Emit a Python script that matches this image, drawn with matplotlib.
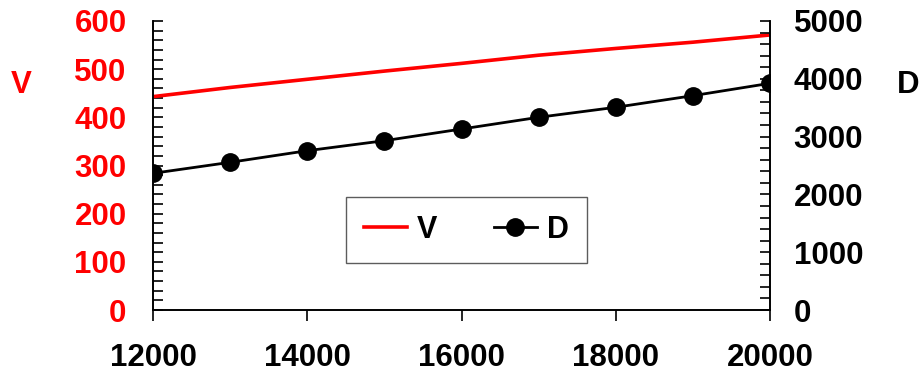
import matplotlib
matplotlib.use("Agg")
import matplotlib.pyplot as plt
from matplotlib.ticker import MultipleLocator

plt.rcParams['font.family'] = ['Liberation Sans', 'DejaVu Sans']
plt.rcParams['font.weight'] = 'bold'

x = [12000, 13000, 14000, 15000, 16000, 17000, 18000, 19000, 20000]
V = [443, 462, 479, 496, 512, 529, 543, 556, 571]
D = [2365, 2555, 2756, 2929, 3131, 3334, 3507, 3708, 3922]
xticks = [12000, 14000, 16000, 18000, 20000]

fig = plt.figure(figsize=(9.2, 3.72), dpi=100)
ax = fig.add_axes([153/920, 62/372, 617/920, 289/372])
ax2 = ax.twinx()

lv, = ax.plot(x, V, color='#FF0000', lw=2.6, label='V')
ld, = ax2.plot(x, D, color='black', lw=2.0, marker='o', ms=12.5, label='D')

ax.set_xlim(12000, 20000)
ax.set_ylim(0, 600)
ax2.set_ylim(0, 5000)
ax.set_xticks(xticks)
ax.set_yticks(range(0, 601, 100))
ax.yaxis.set_minor_locator(MultipleLocator(20))
ax2.set_yticks(range(0, 5001, 1000))
ax2.yaxis.set_minor_locator(MultipleLocator(200))

for a in (ax, ax2):
    a.spines['top'].set_visible(False)
    for s in a.spines.values():
        s.set_linewidth(1.2)

fs = 22.5
ax.tick_params(axis='y', which='both', direction='in', length=7, width=1.2,
               labelsize=fs, labelcolor='#FF0000', pad=19)
ax.tick_params(axis='x', which='both', direction='out', length=8, width=1.2,
               labelsize=fs, pad=16)
ax2.tick_params(axis='y', which='both', direction='in', length=7, width=1.2,
                labelsize=fs, labelcolor='black', pad=17)
for lab in ax.get_yticklabels() + ax.get_xticklabels() + ax2.get_yticklabels():
    lab.set_fontweight('bold')

fig.text(21/920, 1 - 85/372, 'V', color='#FF0000', fontsize=fs, fontweight='bold',
         ha='center', va='center')
fig.text(908/920, 1 - 85/372, 'D', color='black', fontsize=fs, fontweight='bold',
         ha='center', va='center')

leg = ax2.legend(handles=[lv, ld], loc='center', bbox_to_anchor=(0.508, 0.277),
                 ncol=2, frameon=True, fancybox=False, prop={'size': 22, 'weight': 'bold'},
                 handlelength=1.4, columnspacing=1.85, handletextpad=0.33, borderpad=0.6)
leg.get_frame().set_edgecolor('#333333')
leg.get_frame().set_linewidth(1.0)

fig.savefig('out.png', dpi=100)
